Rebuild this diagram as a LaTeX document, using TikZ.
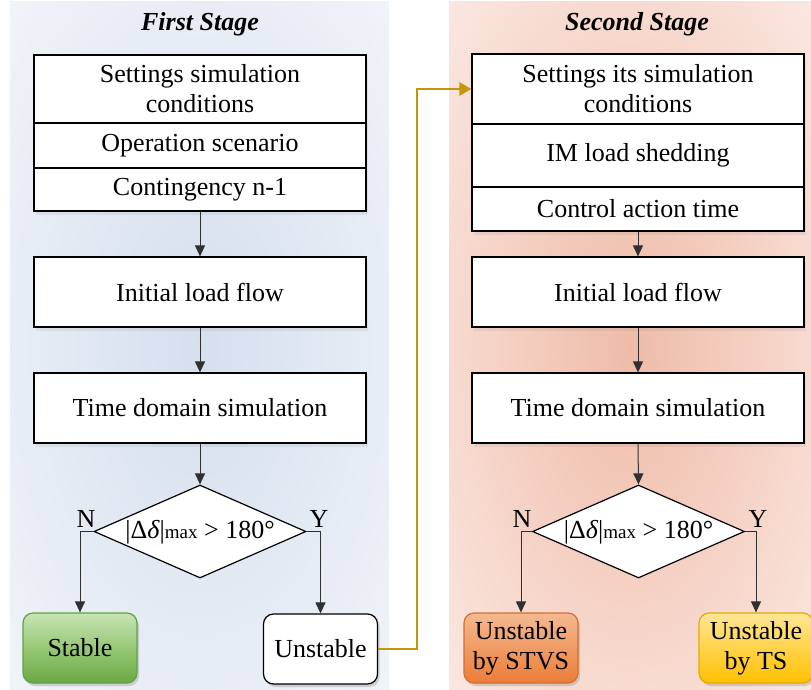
\documentclass[tikz,border=0pt]{standalone}
\usepackage{fontspec}
\setmainfont{Liberation Serif}
\usetikzlibrary{arrows.meta,shadows,shapes.geometric}
\definecolor{pbA}{HTML}{D5DFEE}
\definecolor{pbB}{HTML}{F4F6FA}
\definecolor{prA}{HTML}{EFBBA8}
\definecolor{prB}{HTML}{FCEDE8}
\definecolor{gold}{RGB}{196,150,10}
\definecolor{lineg}{HTML}{303030}
\definecolor{grTop}{RGB}{200,228,180}
\definecolor{grMid}{RGB}{150,200,118}
\definecolor{grBot}{RGB}{108,168,68}
\definecolor{grDr}{RGB}{100,160,70}
\definecolor{orTop}{RGB}{244,185,145}
\definecolor{orBot}{RGB}{235,125,55}
\definecolor{orDr}{RGB}{214,110,50}
\definecolor{yeTop}{RGB}{255,230,150}
\definecolor{yeBot}{RGB}{255,192,0}
\definecolor{yeDr}{RGB}{230,170,0}
\pgfdeclareradialshading{bluepanel}{\pgfpoint{0bp}{0bp}}{color(0bp)=(pbA); color(40bp)=(pbB); color(70bp)=(pbB)}
\pgfdeclareradialshading{redpanel}{\pgfpoint{0bp}{0bp}}{color(0bp)=(prA); color(40bp)=(prB); color(70bp)=(prB)}
\tikzset{
  txt/.style={font=\fontsize{26}{30}\selectfont},
  box/.style={txt, draw=black, line width=1.2pt, fill=white, minimum width=332pt, align=center, inner sep=0pt,
     drop shadow={opacity=0.12, shadow xshift=2pt, shadow yshift=-4pt}},
  dec/.style={txt, diamond, draw=black, line width=1.2pt, fill=white, minimum width=212pt, minimum height=93pt, inner sep=0pt, aspect=2.28},
  res/.style={txt, draw=#1, line width=1.2pt, rounded corners=10pt, minimum width=114pt, minimum height=70pt, align=center, inner sep=0pt,
     drop shadow={opacity=0.3, shadow xshift=2pt, shadow yshift=-3pt}},
  arr/.style={draw=lineg, line width=1pt, -{Triangle[length=11pt,width=10pt]}},
  lbl/.style={txt},
  ttl/.style={font=\fontsize{26}{30}\selectfont\bfseries\itshape}
}
\begin{document}
\begin{tikzpicture}[x=1pt,y=-1pt]
\useasboundingbox (0,0) rectangle (811,690);
% panels
\shade[shading=bluepanel] (10,2) rectangle (389,690);
\shade[shading=redpanel] (449,2) rectangle (811,690);
% titles
\node[ttl] (t1) at (200,24) {First Stage};
\node[ttl] (t2) at (637,24) {Second Stage};
% left column
\node[box, minimum height=68pt] (a1) at (200,89) {Settings simulation\\conditions};
\node[box, minimum height=45pt] (a2) at (200,145.5) {Operation scenario};
\node[box, minimum height=43pt] (a3) at (200,189.5) {Contingency n-1};
\node[box, minimum height=70pt] (a4) at (200,292) {Initial load flow};
\node[box, minimum height=70pt] (a5) at (200,408) {Time domain simulation};
\node[dec] (a6) at (200,531.5) {};
\node[txt] (a6t) at (200,532) {|Δ\textit{δ}|{\fontsize{19}{20}\selectfont max} > 180°};
\node[res=grDr, top color=grTop, bottom color=grBot, middle color=grMid] (a7) at (80,648) {Stable};
\node[res=black, fill=white] (a8) at (320.5,649) {Unstable};
\node[lbl] (n1) at (86,519) {N};
\node[lbl] (y1) at (319,519) {Y};
% right column
\node[box, minimum height=70pt] (b1) at (638,89) {Settings its simulation\\conditions};
\node[box, minimum height=63pt] (b2) at (638,155.5) {IM load shedding};
\node[box, minimum height=44pt] (b3) at (638,209) {Control action time};
\node[box, minimum height=70pt] (b4) at (638,292) {Initial load flow};
\node[box, minimum height=70pt] (b5) at (638,408) {Time domain simulation};
\node[dec] (b6) at (638.5,531.5) {};
\node[txt] (b6t) at (638.5,532) {|Δ\textit{δ}|{\fontsize{19}{20}\selectfont max} > 180°};
\node[res=orDr, top color=orTop, bottom color=orBot] (b7) at (521,648) {Unstable\\by STVS};
\node[res=yeDr, top color=yeTop, bottom color=yeBot] (b8) at (756,648) {Unstable\\by TS};
\node[lbl] (n2) at (522,519) {N};
\node[lbl] (y2) at (758,519) {Y};
% connectors left
\draw[arr] (a3.south) -- (a4.north);
\draw[arr] (a4.south) -- (a5.north);
\draw[arr] (a5.south) -- (a6.north);
\draw[arr] (a6.west) -| (a7.north);
\draw[arr] (a6.east) -| (a8.north);
% connectors right
\draw[arr] (b3.south) -- (b4.north);
\draw[arr] (b4.south) -- (b5.north);
\draw[arr] (b5.south) -- (b6.north);
\draw[arr] (b6.west) -| (b7.north);
\draw[arr] (b6.east) -| (b8.north);
% gold link
\coordinate (g1) at (417,649);
\coordinate (g2) at (417,89);
\draw[draw=gold, line width=2.6pt, -{Triangle[length=12pt,width=13pt]}] (a8.east) -- (g1) -- (g2) -- (b1.west);
\end{tikzpicture}
\end{document}
